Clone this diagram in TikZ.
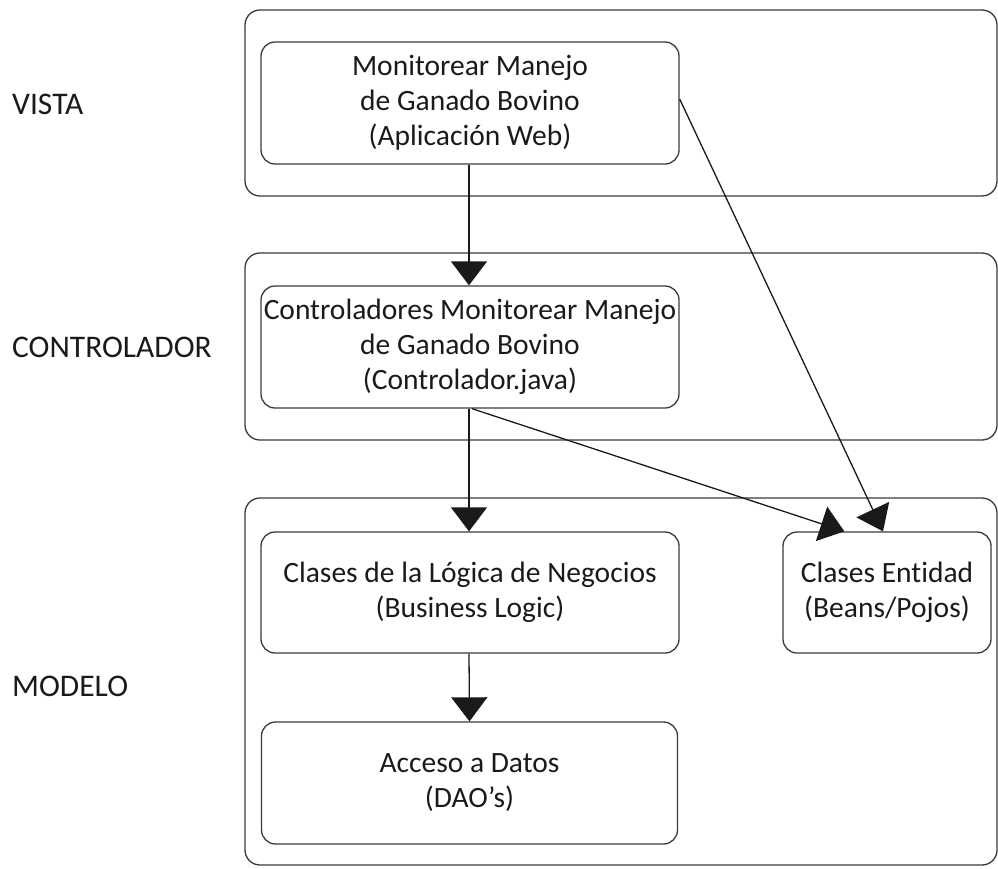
\documentclass[tikz,border=0pt]{standalone}
\usepackage{fontspec}
\setmainfont{Carlito}[Ligatures=NoCommon]
\usetikzlibrary{arrows.meta}
\definecolor{ink}{HTML}{1A1A1A}
\definecolor{edge}{HTML}{3A3A3A}
\begin{document}
\begin{tikzpicture}[x=1pt,y=-1pt,
  layer/.style={draw=edge,line width=1.3pt,rounded corners=15pt},
  comp/.style={draw=edge,line width=1.3pt,rounded corners=14pt,align=center,
    text=ink,font=\fontsize{29.5}{35}\selectfont,inner sep=0pt,
    minimum height=122pt},
  lbl/.style={anchor=base west,text=ink,font=\fontsize{31.5}{36}\selectfont,inner sep=0pt},
  flow/.style={draw=ink,line width=1.3pt,-{Triangle[length=24pt,width=36pt]}}]
\useasboundingbox (0,0) rectangle (998,868);

% layer frames
\draw[layer] (245,10) rectangle (997,196);
\draw[layer] (245,253) rectangle (997,440);
\draw[layer] (245,498) rectangle (997,865);

% layer captions
\node[lbl] (lv) at (12,114) {VISTA};
\node[lbl] (lc) at (12,357) {CONTROLADOR};
\node[lbl] (lm) at (12,696) {MODELO};

% components
\node[comp,minimum width=418pt] (vista) at (470,103)
  {Monitorear Manejo\\de Ganado Bovino\\(Aplicación Web)};
\node[comp,minimum width=418pt] (ctrl) at (470,347)
  {Controladores Monitorear Manejo\\de Ganado Bovino\\(Controlador.java)};
\node[comp,minimum width=418pt,minimum height=121pt] (bl) at (470,592.5)
  {Clases de la Lógica de Negocios\\(Business Logic)};
\node[comp,minimum width=208pt,minimum height=121pt] (ent) at (887,592.5)
  {Clases Entidad\\(Beans/Pojos)};
\node[comp,minimum width=416pt] (dao) at (469.5,783)
  {Acceso a Datos\\(DAO’s)};

% dependencies
\draw[flow] ([xshift=-1pt]vista.south) -- ([xshift=-1pt]ctrl.north);
\draw[flow] ([xshift=-1pt]ctrl.south) -- ([xshift=-1pt]bl.north);
\draw[flow] ([xshift=-1pt]bl.south) -- (dao.north);
\draw[flow] ([yshift=4pt]vista.east) -- ([xshift=-4pt]ent.north);
\draw[flow] ([xshift=2pt]ctrl.south) -- ([xshift=62pt]ent.north west);
\end{tikzpicture}
\end{document}
